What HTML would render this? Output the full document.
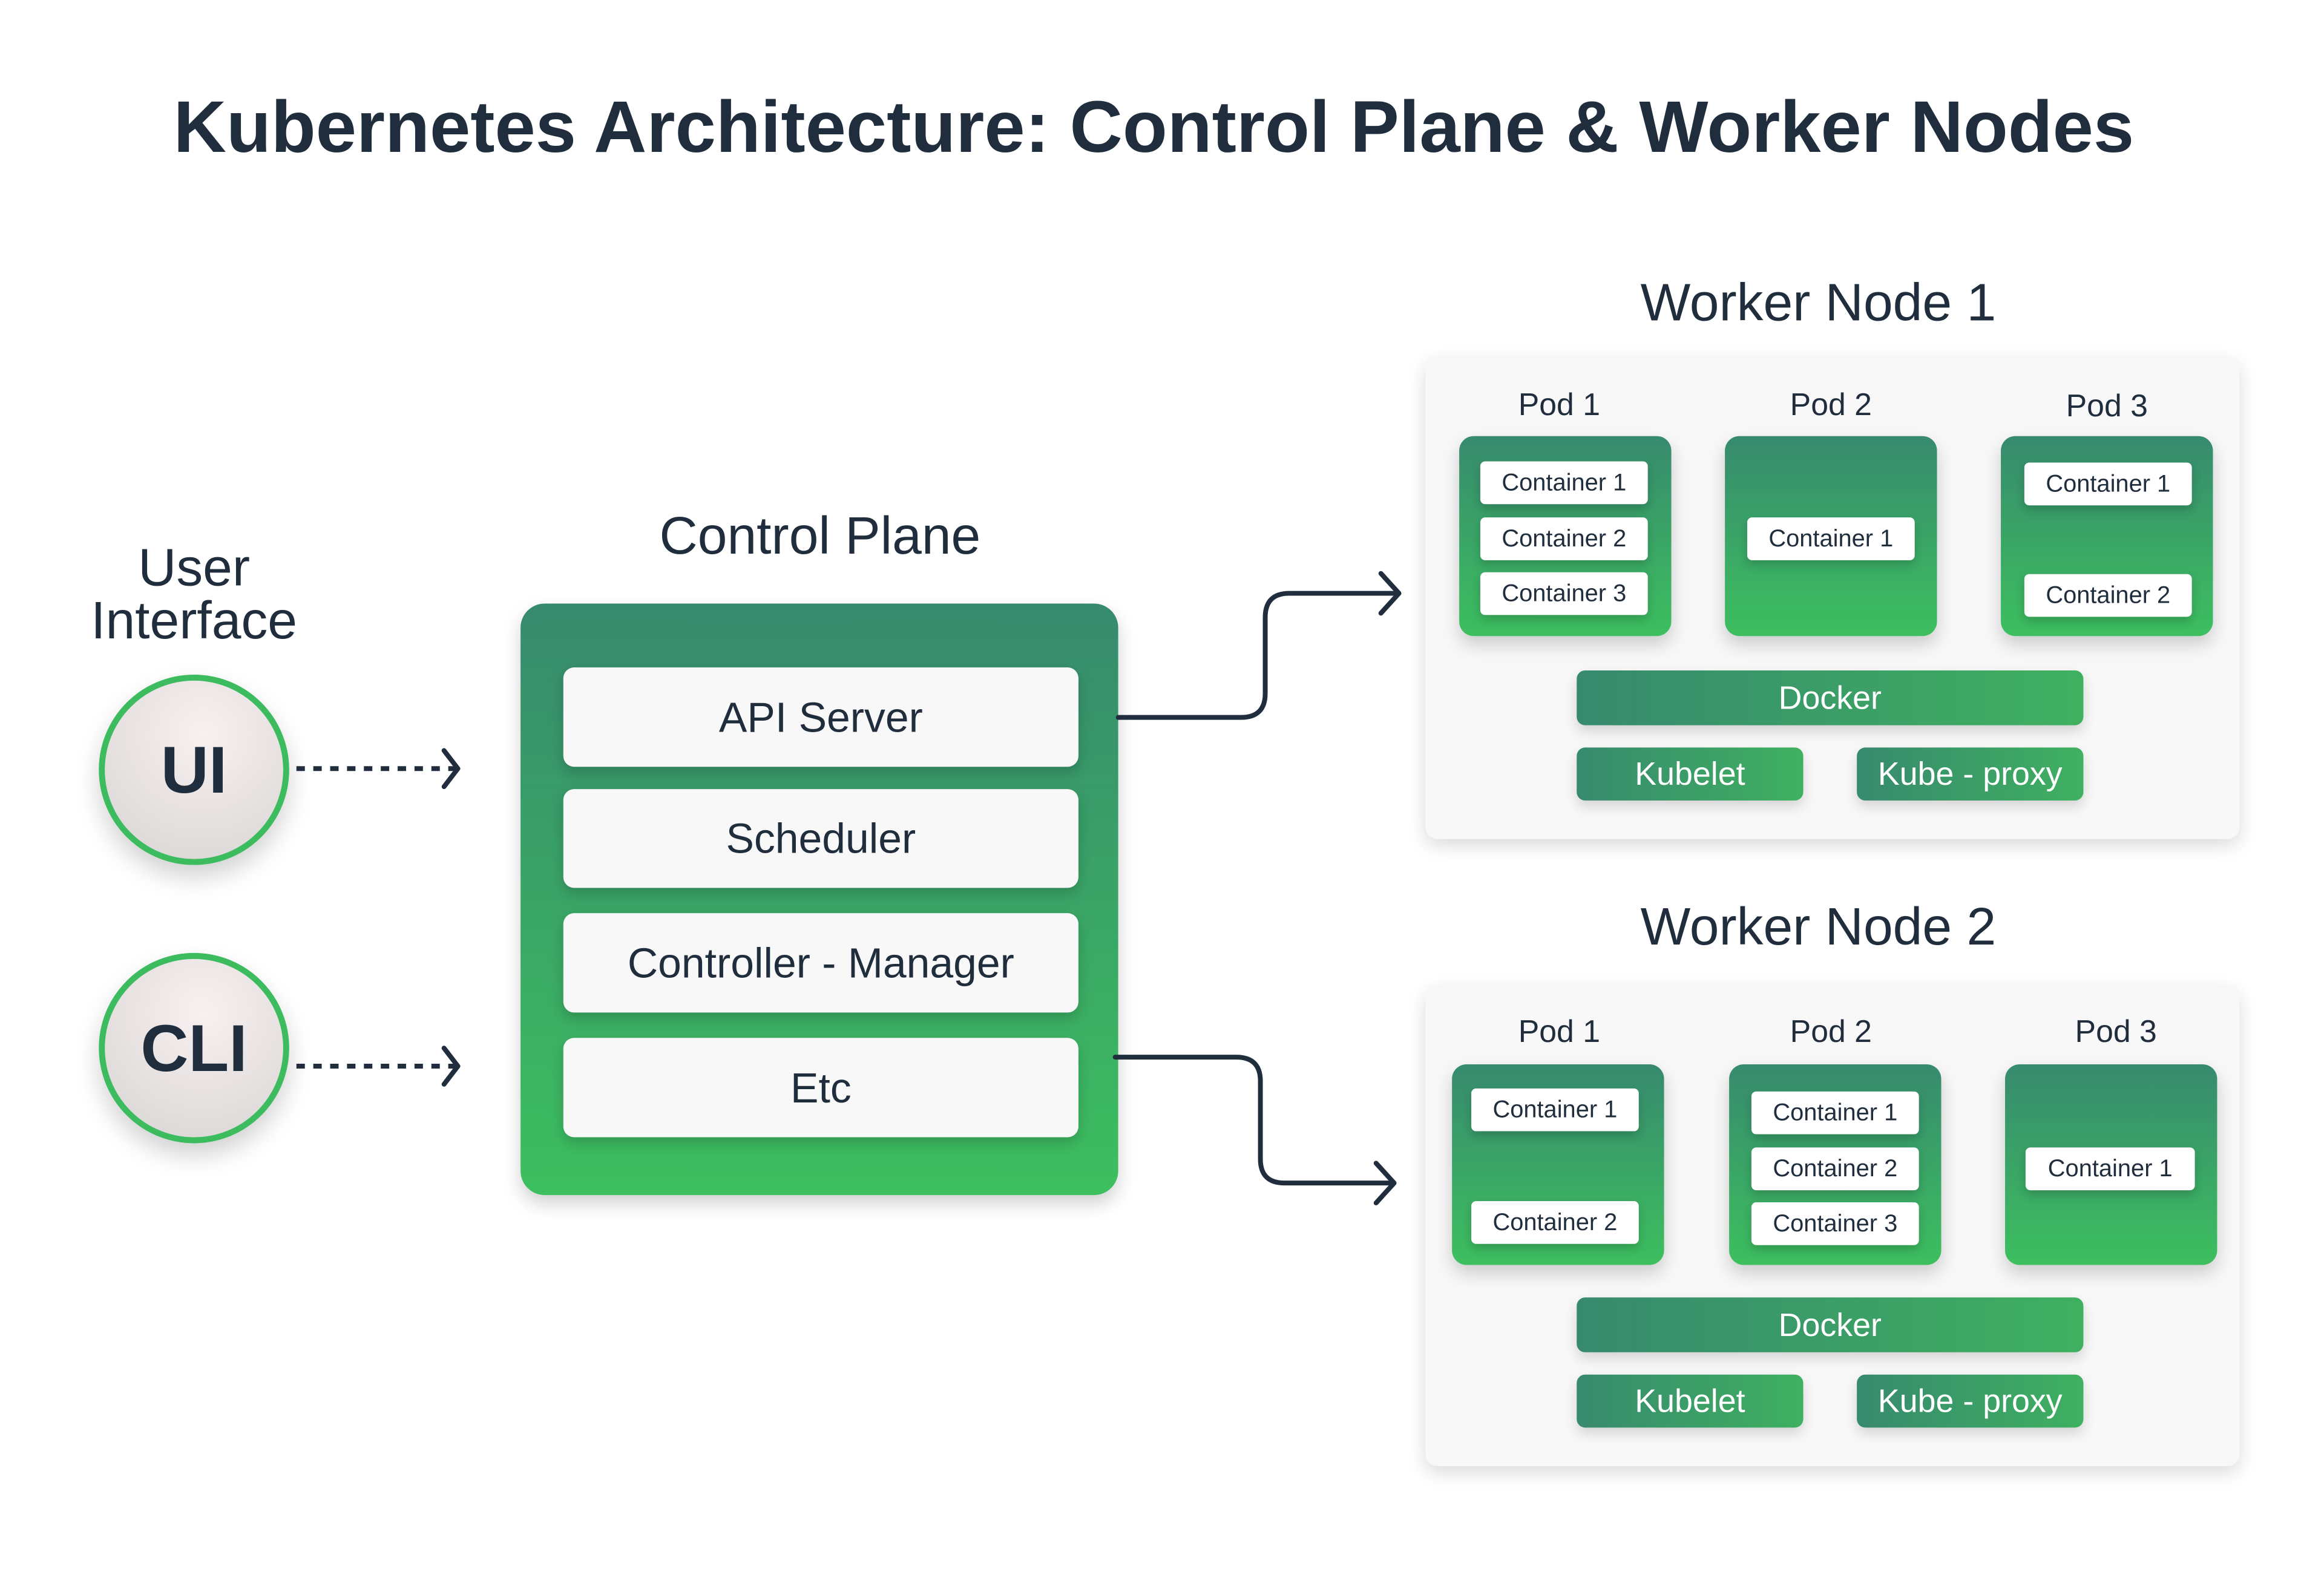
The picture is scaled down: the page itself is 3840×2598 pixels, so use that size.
<!DOCTYPE html>
<html><head><meta charset="utf-8"><style>
*{margin:0;padding:0;box-sizing:border-box}
body{width:3840px;height:2598px;background:#fff;position:relative;overflow:hidden;font-family:"Liberation Sans",sans-serif;color:#1f2d3d}
#w{position:absolute;left:0;top:0;width:3840px;height:2598px;transform:scale(0.9955);transform-origin:0 0}
.a{position:absolute;display:flex;align-items:center;justify-content:center;white-space:nowrap}
.t{position:absolute;transform:translate(-50%,-50%);white-space:nowrap}
.g{background:linear-gradient(180deg,#378a6e,#3dbf5f);border-radius:24px;box-shadow:0 14px 30px rgba(0,0,0,.18)}
.gh{background:linear-gradient(90deg,#378a6e,#3fb060);border-radius:14px;color:#fff;font-size:54px;box-shadow:0 10px 22px rgba(0,0,0,.15)}
.w{background:#f9f8f8;border-radius:20px;box-shadow:0 10px 30px rgba(0,0,0,.15)}
.c{background:#fff;border-radius:8px;font-size:40px;box-shadow:0 8px 16px rgba(0,0,0,.18)}
.cp{background:#f9f8f8;border-radius:18px;font-size:70px;box-shadow:0 10px 22px rgba(0,0,0,.18)}
.circ{position:absolute;border-radius:50%;border:10px solid #3dbb5f;background:radial-gradient(circle at 55% 30%,#f8f0f0,#d8d4d4);font-weight:bold;box-shadow:0 20px 40px rgba(0,0,0,.18);display:flex;align-items:center;justify-content:center;font-size:110px}
</style></head><body><div id="w">
<div class="t" style="left:1915px;top:210px;font-size:121.5px;font-weight:bold">Kubernetes Architecture: Control Plane &amp; Worker Nodes</div>

<div class="t" style="left:322px;top:986px;font-size:88px;text-align:center;line-height:88px">User<br>Interface</div>
<div class="circ" style="left:164px;top:1120px;width:316px;height:316px">UI</div>
<div class="circ" style="left:164px;top:1582px;width:316px;height:316px">CLI</div>

<div class="t" style="left:1361px;top:889px;font-size:88px">Control Plane</div>
<div class="a g" style="left:864px;top:1002px;width:992px;height:982px;border-radius:40px"></div>
<div class="a cp" style="left:935px;top:1108px;width:855px;height:165px">API Server</div>
<div class="a cp" style="left:935px;top:1310px;width:855px;height:164px">Scheduler</div>
<div class="a cp" style="left:935px;top:1516px;width:855px;height:165px">Controller - Manager</div>
<div class="a cp" style="left:935px;top:1723px;width:855px;height:165px">Etc</div>

<svg style="position:absolute;left:0;top:0" width="3840" height="2598">
<g fill="none" stroke="#1f2d3d" stroke-width="8" stroke-linecap="round" stroke-linejoin="round">
<line x1="492" y1="1276" x2="755" y2="1276" stroke-dasharray="14 14" stroke-linecap="butt"/>
<polyline points="737,1246 760,1276 737,1306"/>
<line x1="492" y1="1770" x2="755" y2="1770" stroke-dasharray="14 14" stroke-linecap="butt"/>
<polyline points="737,1740 760,1770 737,1800"/>
<path d="M1856 1191 H2060 Q2100 1191 2100 1151 V1025 Q2100 985 2140 985 H2320"/>
<polyline points="2292,952 2322,985 2292,1018"/>
<path d="M1851 1755 H2052 Q2092 1755 2092 1795 V1924 Q2092 1964 2132 1964 H2312"/>
<polyline points="2284,1931 2314,1964 2284,1997"/>
</g></svg>

<div class="t" style="left:3018px;top:502px;font-size:88px">Worker Node 1</div>
<div class="a w" style="left:2366px;top:593px;width:1351px;height:800px"></div>
<div class="t" style="left:2588px;top:672px;font-size:52px">Pod 1</div>
<div class="t" style="left:3039px;top:672px;font-size:52px">Pod 2</div>
<div class="t" style="left:3497px;top:674px;font-size:52px">Pod 3</div>
<div class="a g" style="left:2422px;top:724px;width:352px;height:332px"></div>
<div class="a g" style="left:2863px;top:724px;width:352px;height:332px"></div>
<div class="a g" style="left:3321px;top:724px;width:352px;height:332px"></div>
<div class="a c" style="left:2457px;top:766px;width:278px;height:71px">Container 1</div>
<div class="a c" style="left:2457px;top:859px;width:278px;height:71px">Container 2</div>
<div class="a c" style="left:2457px;top:950px;width:278px;height:71px">Container 3</div>
<div class="a c" style="left:2900px;top:859px;width:278px;height:71px">Container 1</div>
<div class="a c" style="left:3360px;top:768px;width:278px;height:71px">Container 1</div>
<div class="a c" style="left:3360px;top:953px;width:278px;height:71px">Container 2</div>
<div class="a gh" style="left:2617px;top:1113px;width:841px;height:91px">Docker</div>
<div class="a gh" style="left:2617px;top:1241px;width:376px;height:88px">Kubelet</div>
<div class="a gh" style="left:3082px;top:1241px;width:376px;height:88px">Kube - proxy</div>

<div class="t" style="left:3018px;top:1538px;font-size:88px">Worker Node 2</div>
<div class="a w" style="left:2366px;top:1637px;width:1351px;height:797px"></div>
<div class="t" style="left:2588px;top:1713px;font-size:52px">Pod 1</div>
<div class="t" style="left:3039px;top:1713px;font-size:52px">Pod 2</div>
<div class="t" style="left:3512px;top:1713px;font-size:52px">Pod 3</div>
<div class="a g" style="left:2410px;top:1767px;width:352px;height:333px"></div>
<div class="a g" style="left:2870px;top:1767px;width:352px;height:333px"></div>
<div class="a g" style="left:3328px;top:1767px;width:352px;height:333px"></div>
<div class="a c" style="left:2442px;top:1807px;width:278px;height:71px">Container 1</div>
<div class="a c" style="left:2442px;top:1994px;width:278px;height:71px">Container 2</div>
<div class="a c" style="left:2907px;top:1812px;width:278px;height:71px">Container 1</div>
<div class="a c" style="left:2907px;top:1905px;width:278px;height:71px">Container 2</div>
<div class="a c" style="left:2907px;top:1996px;width:278px;height:71px">Container 3</div>
<div class="a c" style="left:3362px;top:1905px;width:281px;height:71px">Container 1</div>
<div class="a gh" style="left:2617px;top:2154px;width:841px;height:91px">Docker</div>
<div class="a gh" style="left:2617px;top:2282px;width:376px;height:88px">Kubelet</div>
<div class="a gh" style="left:3082px;top:2282px;width:376px;height:88px">Kube - proxy</div>
</div></body></html>
